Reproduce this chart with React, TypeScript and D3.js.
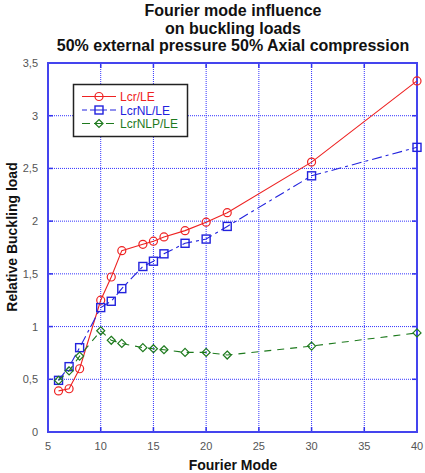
import React from "react";
import * as d3 from "d3";

const modes = [6, 7, 8, 10, 11, 12, 14, 15, 16, 18, 20, 22, 30, 40];
const lcrLE = [0.39, 0.41, 0.6, 1.25, 1.47, 1.72, 1.78, 1.81, 1.85, 1.91, 1.99, 2.08, 2.56, 3.33];
const lcrNLLE = [0.49, 0.62, 0.8, 1.18, 1.24, 1.36, 1.57, 1.62, 1.69, 1.79, 1.83, 1.95, 2.43, 2.7];
const lcrNLPLE = [0.49, 0.58, 0.72, 0.96, 0.87, 0.84, 0.8, 0.79, 0.78, 0.755, 0.755, 0.73, 0.815, 0.94];
const xTicks = [5, 10, 15, 20, 25, 30, 35, 40];
const yTicks = [0, 0.5, 1, 1.5, 2, 2.5, 3, 3.5];
const seriesNames = ["Lcr/LE", "LcrNL/LE", "LcrNLP/LE"];

const W = 425, H = 473;
const L = 48, R = 417, T = 63, B = 432;
const font = "Liberation Sans, Arial, sans-serif";

export default function App() {
  const x = d3.scaleLinear().domain([5, 40]).range([L, R]);
  const y = d3.scaleLinear().domain([0, 3.5]).range([B, T]);
  const series = [
    { name: seriesNames[0], vals: lcrLE, color: "#ee2222", dash: "", marker: "circle" },
    { name: seriesNames[1], vals: lcrNLLE, color: "#2222dd", dash: "10,4,3,4", marker: "square" },
    { name: seriesNames[2], vals: lcrNLPLE, color: "#1e7a1e", dash: "7,6", marker: "diamond" },
  ];
  const line = (vals: number[]) =>
    d3.line<number>().x((_, i) => x(modes[i])).y((v) => y(v))(vals) || "";
  const fmt = (v: number) => String(v).replace(".", ",");
  const marker = (kind: string, cx: number, cy: number, color: string, key: any) => {
    if (kind === "circle") return <circle key={key} cx={cx} cy={cy} r={4} fill="none" stroke={color} strokeWidth={1.2} />;
    if (kind === "square") return <rect key={key} x={cx - 4} y={cy - 4} width={8} height={8} fill="none" stroke={color} strokeWidth={1.4} />;
    return <path key={key} d={`M${cx},${cy - 4}L${cx + 4},${cy}L${cx},${cy + 4}L${cx - 4},${cy}Z`} fill="none" stroke={color} strokeWidth={1.2} />;
  };
  const legendRows = [96.5, 110, 123.5];
  return (
    <svg width={W} height={H} style={{ display: "block", position: "absolute", left: 0, top: 0 }}>
      <rect width={W} height={H} fill="#fff" />
      <g fontFamily={font} fontWeight="bold" fontSize={16} fill="#111" textAnchor="middle">
        <text x={233} y={16}>Fourier mode influence</text>
        <text x={233} y={34}>on buckling loads</text>
        <text x={233} y={51}>50% external pressure 50% Axial compression</text>
      </g>
      {/* grid */}
      <g stroke="#3333ff" strokeWidth={1} strokeDasharray="1,1">
        {xTicks.slice(1, -1).map((t) => (
          <line key={"gx" + t} x1={x(t)} x2={x(t)} y1={T} y2={B} />
        ))}
        {yTicks.slice(1, -1).map((t) => (
          <line key={"gy" + t} x1={L} x2={R} y1={y(t)} y2={y(t)} />
        ))}
      </g>
      {/* ticks inward */}
      <g stroke="#3333ee" strokeWidth={1.5}>
        {xTicks.map((t) => (
          <g key={"tx" + t}>
            <line x1={x(t)} x2={x(t)} y1={B} y2={B - 5} />
            <line x1={x(t)} x2={x(t)} y1={T} y2={T + 5} />
          </g>
        ))}
        {yTicks.map((t) => (
          <g key={"ty" + t}>
            <line x1={L} x2={L + 5} y1={y(t)} y2={y(t)} />
            <line x1={R} x2={R - 5} y1={y(t)} y2={y(t)} />
          </g>
        ))}
      </g>
      <rect x={L} y={T} width={R - L} height={B - T} fill="none" stroke="#4444ee" strokeWidth={2} />
      {/* tick labels */}
      <g fontFamily={font} fontSize={11} fill="#555">
        {xTicks.map((t) => (
          <text key={"lx" + t} x={x(t)} y={450} textAnchor="middle">{t}</text>
        ))}
        {yTicks.map((t) => (
          <text key={"ly" + t} x={38} y={y(t) + 4} textAnchor="end">{fmt(t)}</text>
        ))}
      </g>
      <text x={233} y={470} textAnchor="middle" fontFamily={font} fontWeight="bold" fontSize={14} fill="#111">Fourier Mode</text>
      <text transform="translate(17,237) rotate(-90)" textAnchor="middle" fontFamily={font} fontWeight="bold" fontSize={14} fill="#111">Relative Buckling load</text>
      {/* series */}
      {series.map((s, si) => (
        <g key={s.name}>
          <path d={line(s.vals)} fill="none" stroke={s.color} strokeWidth={1.1} strokeDasharray={s.dash} />
          {s.vals.map((v, i) => marker(s.marker, x(modes[i]), y(v), s.color, si + "-" + i))}
        </g>
      ))}
      {/* legend */}
      <rect x={73.5} y={84.5} width={114} height={52} fill="#fff" stroke="#222" strokeWidth={1.5} />
      {series.map((s, i) => (
        <g key={"lg" + i}>
          <line x1={82} x2={116} y1={legendRows[i]} y2={legendRows[i]} stroke={s.color} strokeWidth={1.1} strokeDasharray={i === 0 ? "" : i === 1 ? "5,3,12,0" : "8,4"} />
          {marker(s.marker, 99, legendRows[i], s.color, "lm" + i)}
          <text x={120} y={legendRows[i] + 4.5} fontFamily={font} fontSize={12} fill={s.color}>{s.name}</text>
        </g>
      ))}
    </svg>
  );
}
